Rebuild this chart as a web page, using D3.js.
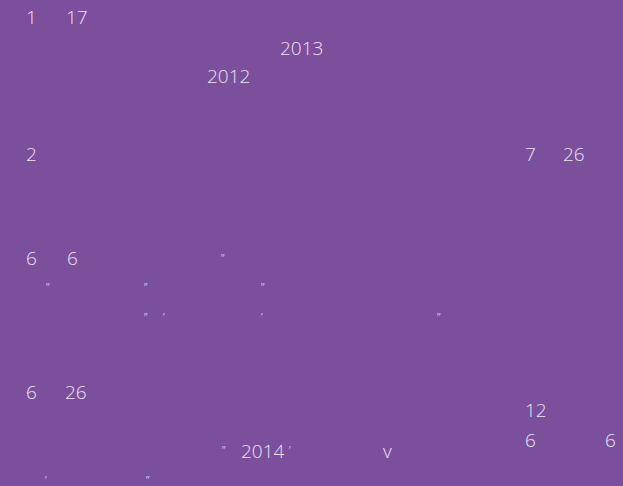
<!DOCTYPE html>
<html>
<head>
<meta charset="utf-8">
<script src="https://cdn.jsdelivr.net/npm/d3@7"></script>
<style>
  html, body { margin: 0; padding: 0; background: #7b4f9c; }
  svg { display: block; }
</style>
</head>
<body>
<svg width="623" height="486"></svg>
<script>
// visible text of the slide (the CJK glyphs are missing in the original picture)
var labels = ['1', '17', '2013', '2012', '2', '7', '26', '6', '6', '6', '26', '12', '6', '6', '2014', 'v']
var marks = ['"', '"', '"', '"', '"', "'", "'", '"', '"', "'", "'", '"']

// where each bit sits (left x, baseline y)
var labelPos = [[26,24],[66,24],[280,55],[207,83],[26,161],[525,161],[563,161],[26,265],[67,265],
                [26,399],[65,399],[525,417],[525,447],[605,447],[241,458],[383,458]]
// small marks: left x, top y
var markPos = [[220,252],[45,281],[143,281],[260,281],[143,311],[162,311],[260,311],[436,311],
               [221,444],[288,444],[44,474],[145,474]]

var svg = d3.select('svg')

svg.append('rect')
    .attr('width', 623)
    .attr('height', 486)
    .attr('fill', '#7b4f9c')

svg.selectAll('text.lbl')
    .data(labels)
    .enter()
    .append('text')
    .attr('class', 'lbl')
    .attr('x', function(d,i){ return labelPos[i][0] })
    .attr('y', function(d,i){ return labelPos[i][1] })
    .attr('font-family', '"Open Sans", "Noto Sans", sans-serif')
    .attr('font-weight', 300)
    .attr('font-size', 19)
    .attr('fill', '#ebe2f2')
    .text(function(d){ return d })

svg.selectAll('text.mark')
    .data(marks)
    .enter()
    .append('text')
    .attr('class', 'mark')
    .attr('x', function(d,i){ return markPos[i][0] })
    .attr('y', function(d,i){ return markPos[i][1] })
    .attr('dominant-baseline', 'hanging')
    .attr('font-family', '"Open Sans", "Noto Sans", sans-serif')
    .attr('font-style', 'italic')
    .attr('font-size', 11)
    .attr('fill', '#d9c9e6')
    .text(function(d){ return d })
</script>
</body>
</html>
